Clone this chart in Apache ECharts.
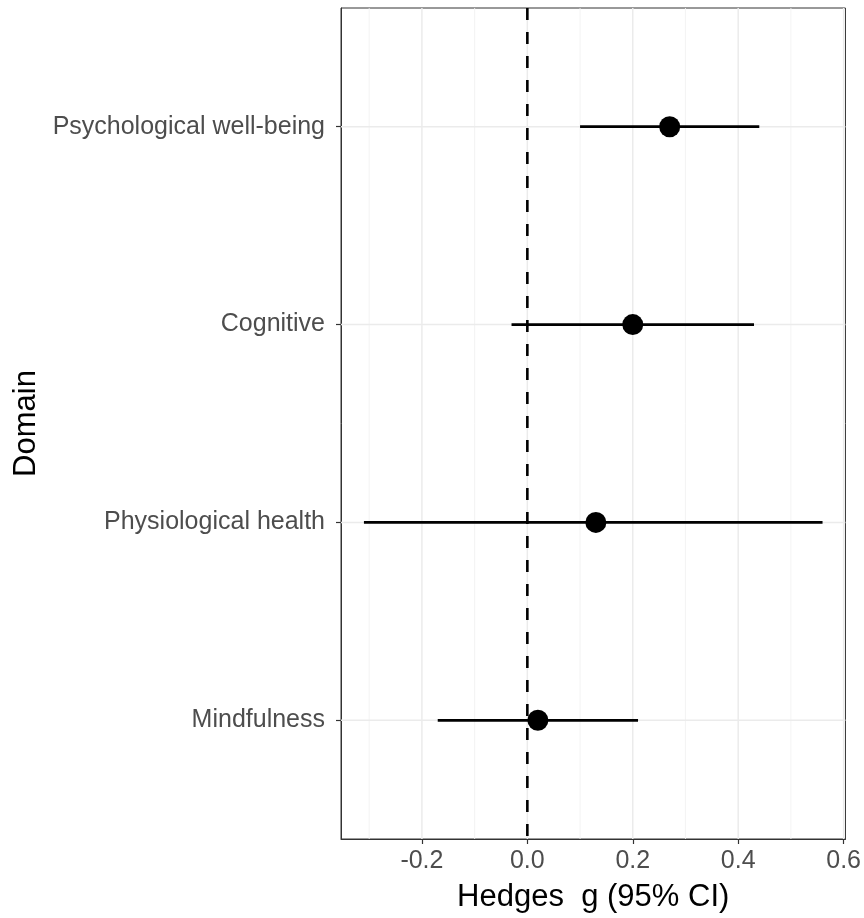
<!DOCTYPE html>
<html>
<head>
<meta charset="utf-8">
<script src="https://cdn.jsdelivr.net/npm/echarts@6/dist/echarts.min.js"></script>
<style>html,body{margin:0;padding:0;background:#fff}#c{width:864px;height:918px}</style>
</head>
<body>
<div id="c"></div>
<script>
// Data (bottom to top)
const domains = ["Mindfulness", "Physiological health", "Cognitive", "Psychological well-being"];
const estimate = [0.02, 0.13, 0.20, 0.27];
const ciLow = [-0.17, -0.31, -0.03, 0.10];
const ciHigh = [0.21, 0.56, 0.43, 0.44];
const xTicks = [-0.2, 0.0, 0.2, 0.4, 0.6];
const xMinor = [-0.3, -0.1, 0.1, 0.3, 0.5];
const yPos = [1, 2, 3, 4];
const xRange = [-0.3535, 0.6035];
const yRange = [0.4, 4.6];

const chart = echarts.init(document.getElementById('c'));
const font = 'Liberation Sans, Arial, Helvetica, sans-serif';

function refLine(pts, color, width, type, z) {
  return {type: 'line', z: z, silent: true, symbol: 'none', animation: false,
    lineStyle: {color: color, width: width, type: type}, data: pts};
}

const gridSeries = []
  .concat(xMinor.map(v => refLine([[v, yRange[0]], [v, yRange[1]]], '#f2f2f2', 0.9, 'solid', 1)))
  .concat(xTicks.map(v => refLine([[v, yRange[0]], [v, yRange[1]]], '#ebebeb', 1.5, 'solid', 1)))
  .concat(yPos.map(v => refLine([[xRange[0], v], [xRange[1], v]], '#ebebeb', 1.5, 'solid', 1)));

const zeroLine = refLine([[0, yRange[1]], [0, yRange[0]]], '#000', 2.6, [12, 12], 3);

const ciSeries = yPos.map((y, i) => refLine([[ciLow[i], y], [ciHigh[i], y]], '#000', 2.8, 'solid', 4));

chart.setOption({
  animation: false,
  grid: {left: 341, right: 17, top: 8, bottom: 78, show: true, borderColor: '#333', borderWidth: 1, backgroundColor: 'transparent'},
  xAxis: {
    type: 'value', min: xRange[0], max: xRange[1],
    name: 'Hedges  g (95% CI)', nameLocation: 'middle', nameGap: 43,
    nameTextStyle: {color: '#000', fontSize: 31, fontFamily: font},
    axisLine: {show: true, onZero: false, lineStyle: {color: '#333', width: 1}},
    axisTick: {show: true, length: 5, customValues: xTicks, lineStyle: {color: '#333', width: 1.2}},
    axisLabel: {customValues: xTicks, color: '#4d4d4d', fontSize: 25, fontFamily: font, margin: 10,
      formatter: v => v.toFixed(1)},
    splitLine: {show: false}
  },
  yAxis: {
    type: 'value', min: yRange[0], max: yRange[1],
    name: 'Domain', nameLocation: 'middle', nameGap: 290, nameRotate: 90,
    nameTextStyle: {color: '#000', fontSize: 31, fontFamily: font},
    axisLine: {show: true, onZero: false, lineStyle: {color: '#333', width: 1}},
    axisTick: {show: true, length: 5, customValues: yPos, lineStyle: {color: '#333', width: 1.2}},
    axisLabel: {customValues: yPos, color: '#4d4d4d', fontSize: 25, fontFamily: font, margin: 16,
      formatter: v => domains[Math.round(v) - 1] || ''},
    splitLine: {show: false}
  },
  series: gridSeries.concat([zeroLine], ciSeries, [
    {
      type: 'scatter', z: 5, symbol: 'circle', symbolSize: 21, silent: true,
      itemStyle: {color: '#000', opacity: 1},
      data: yPos.map((y, i) => [estimate[i], y])
    }
  ])
});
</script>
</body>
</html>
